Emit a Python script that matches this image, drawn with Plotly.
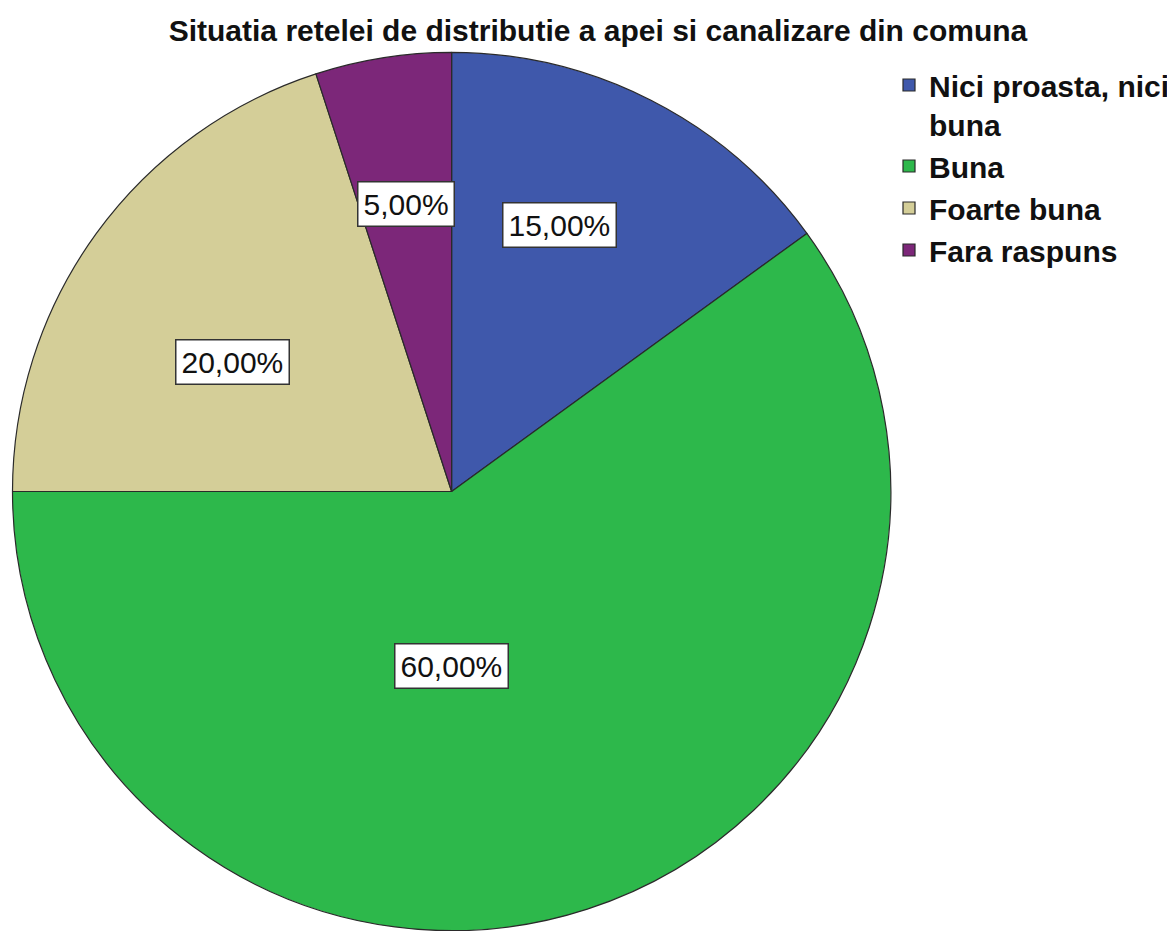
import math
import plotly.graph_objects as go

categories = ["Nici proasta, nici<br>buna", "Buna", "Foarte buna", "Fara raspuns"]
values = [15.0, 60.0, 20.0, 5.0]
value_labels = ["15,00%", "60,00%", "20,00%", "5,00%"]
colors = ["#3F58AB", "#2DB84B", "#D4CE98", "#7C2779"]

# figure size (page body has an 8px margin in the browser)
W, H = 1167, 923
mt, mb, ml, mr = 44, 0, 0, 0
pw, ph = W - ml - mr, H - mt - mb
diam = min(pw, ph)
cx_px = 444
dom_x = [(cx_px - diam / 2) / pw, (cx_px + diam / 2) / pw]

fig = go.Figure()
fig.add_trace(go.Pie(
    labels=categories,
    values=values,
    sort=False,
    direction="clockwise",
    rotation=0,
    marker=dict(colors=colors, line=dict(color="#2a2a2a", width=1.2)),
    textinfo="none",
    hoverinfo="label+percent",
    domain=dict(x=dom_x, y=[0, 1]),
))

# label boxes placed around slice mid-angles (computed from the data)
label_r = [0.653, 0.397, 0.58, 0.662]
label_angle_offset = [-5.0, 18.0, -5.4, 0.0]
total = sum(values)
cum = 0.0
cxp = (dom_x[0] + dom_x[1]) / 2
cyp = 0.5
rx = (diam / 2) / pw
ry = (diam / 2) / ph
for v, lab, rf, off in zip(values, value_labels, label_r, label_angle_offset):
    mid = (cum + v / 2) / total * 2 * math.pi + math.radians(off)
    cum += v
    x = cxp + rf * rx * math.sin(mid)
    y = cyp + rf * ry * math.cos(mid)
    fig.add_annotation(
        x=x, y=y, xref="paper", yref="paper", text=lab, showarrow=False,
        xanchor="center", yanchor="middle",
        font=dict(family="Arial, Liberation Sans", size=30, color="#111"),
        bgcolor="white", bordercolor="#333", borderwidth=1.5, borderpad=5,
    )

fig.update_layout(
    width=W, height=H,
    margin=dict(l=ml, r=mr, t=mt, b=mb),
    paper_bgcolor="white",
    plot_bgcolor="white",
    title=dict(
        text="<b>Situatia retelei de distributie a apei si canalizare din comuna</b>",
        x=590 / W, xanchor="center", y=1 - 22 / H, yanchor="middle",
        font=dict(family="Arial, Liberation Sans", size=30, color="#111"),
    ),
    legend=dict(
        x=882 / W, xanchor="left", y=1 - 7 / ph, yanchor="top",
        font=dict(family="Arial, Liberation Sans", size=30, color="#111", weight="bold"),
        valign="top", tracegroupgap=0,
        bgcolor="rgba(0,0,0,0)",
    ),
)

fig.write_html("out.html")
